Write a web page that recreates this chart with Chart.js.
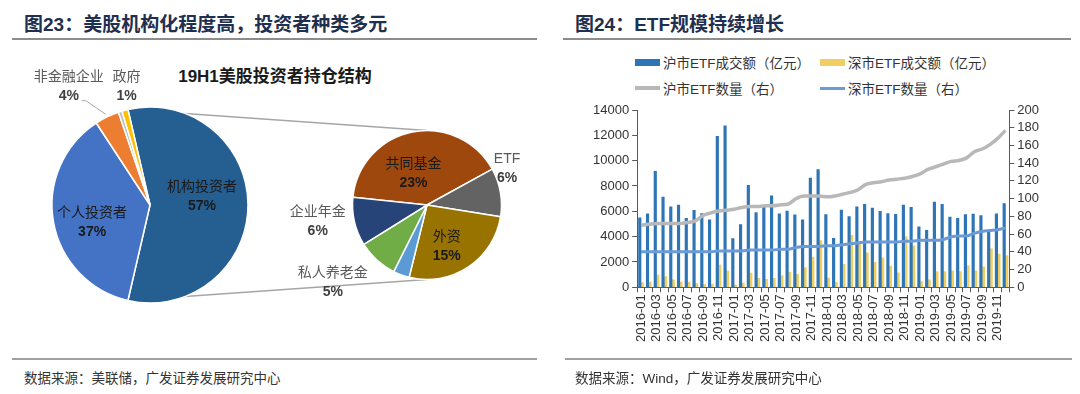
<!DOCTYPE html>
<html lang="zh-CN">
<head>
<meta charset="utf-8">
<title>美股投资者结构与ETF规模</title>
<script src="https://cdn.jsdelivr.net/npm/chart.js@4.4.1/dist/chart.umd.min.js"></script>
<style>
  html, body { margin: 0; padding: 0; background: #fff; }
  body { width: 1080px; height: 394px; position: relative; overflow: hidden;
         font-family: 'Liberation Sans', 'Noto Sans CJK SC', sans-serif; }
  .fig-title { position: absolute; top: 9px; font-size: 19px; font-weight: bold; color: #1F2F4F; white-space: nowrap; }
  .rule { position: absolute; height: 2px; background: #8C8C8C; }
  .src { position: absolute; top: 367px; font-size: 13.5px; color: #333; white-space: nowrap; }
  .sub-title { position: absolute; top: 62px; left: 0; width: 550px; text-align: center;
               font-size: 17px; font-weight: bold; color: #1a1a1a; }
  canvas { position: absolute; }
  #legend { position: absolute; left: 635px; top: 53px; display: grid;
            grid-template-columns: 185px 190px; row-gap: 8px; font-size: 13.5px; color: #333; }
  .lg-item { display: flex; align-items: center; height: 18px; white-space: nowrap; }
  .lg-swatch { display: inline-block; width: 25px; margin-right: 3px; }
</style>
</head>
<body>

<div class="fig-title" style="left:24px">图23：美股机构化程度高，投资者种类多元</div>
<div class="rule" style="left:12px; top:38px; width:525px"></div>
<div class="fig-title" style="left:575px">图24：ETF规模持续增长</div>
<div class="rule" style="left:563px; top:38px; width:508px"></div>

<div class="sub-title">19H1美股投资者持仓结构</div>
<canvas id="instPie" width="560" height="320" style="left:0; top:40px; z-index:1"></canvas>
<canvas id="holderPie" width="560" height="320" style="left:0; top:40px; z-index:2"></canvas>

<div id="legend"></div>
<canvas id="etfChart" width="505" height="315" style="left:565px; top:45px"></canvas>

<div class="rule" style="left:12px; top:358px; width:525px; background:#A0A0A0"></div>
<div class="rule" style="left:565px; top:358px; width:507px; background:#A0A0A0"></div>
<div class="src" style="left:24px">数据来源：美联储，广发证券发展研究中心</div>
<div class="src" style="left:575px">数据来源：Wind，广发证券发展研究中心</div>

<script>
// ---- data: US equity holders, 19H1 (%) ----
const holderNames  = ['机构投资者', '个人投资者', '非金融企业', '其他', '政府'];
const holderShares = [57, 37, 4, 0.6, 1];
const instNames    = ['共同基金', 'ETF', '外资', '其他机构', '私人养老金', '企业年金'];
const instShares   = [23, 6, 15, 2, 5, 6];

// ---- data: ETF monthly, 2016-01 .. 2019-12 ----
const monthLabels = [
  '2016-01', '2016-02', '2016-03', '2016-04', '2016-05', '2016-06', '2016-07', '2016-08', '2016-09', '2016-10', '2016-11', '2016-12',
  '2017-01', '2017-02', '2017-03', '2017-04', '2017-05', '2017-06', '2017-07', '2017-08', '2017-09', '2017-10', '2017-11', '2017-12',
  '2018-01', '2018-02', '2018-03', '2018-04', '2018-05', '2018-06', '2018-07', '2018-08', '2018-09', '2018-10', '2018-11', '2018-12',
  '2019-01', '2019-02', '2019-03', '2019-04', '2019-05', '2019-06', '2019-07', '2019-08', '2019-09', '2019-10', '2019-11', '2019-12'
];
const shTurnover = [
  5480, 5800, 9150, 7120, 6350, 6500, 5450, 6080, 5820, 5330, 11920, 12750,
  3850, 4960, 8050, 5900, 6380, 7230, 5800, 6010, 5720, 5330, 8620, 9300,
  5740, 3870, 6090, 5580, 6360, 6550, 6250, 6000, 5820, 5760, 6490, 6320,
  4770, 4490, 6720, 6560, 5540, 5450, 5740, 5790, 5660, 4350, 5810, 6620
];
const szTurnover = [
  370, 420, 970, 840, 580, 420, 420, 290, 240, 260, 1760, 1290,
  180, 340, 1120, 700, 630, 710, 920, 1210, 1020, 1550, 2380, 3680,
  720, 400, 1820, 4100, 3440, 2730, 1970, 2320, 1670, 1140, 4000, 3270,
  460, 590, 1250, 1250, 1300, 1250, 1720, 1300, 1610, 3040, 2620, 2500
];
const shCount = [
  70, 71, 72, 72, 72, 72, 73, 75, 81, 84, 86, 87,
  88, 90, 91, 91, 92, 92, 93, 94, 100, 103, 103, 103,
  102, 103, 105, 107, 110, 116, 118, 119, 121, 122, 123, 125,
  128, 133, 136, 139, 142, 143, 146, 153, 156, 161, 168, 177
];
const szCount = [
  40, 40, 40, 40, 40, 40, 40, 40, 40, 40, 41, 41,
  41, 41, 42, 42, 42, 42, 43, 43, 45, 46, 46, 46,
  47, 47, 48, 49, 50, 51, 51, 51, 51, 51, 52, 52,
  53, 53, 53, 54, 57, 58, 58, 61, 63, 64, 65, 67
];

const TEXT   = '#333333';
const AXIS   = '#595959';
const FONT   = "'Liberation Sans', 'Noto Sans CJK SC', sans-serif";

const holderColors = ['#255E91', '#4472C4', '#ED7D31', '#BFBFBF', '#FFC000'];
const instColors   = ['#9E480E', '#636363', '#997300', '#5B9BD5', '#70AD47', '#264478'];

// label placement per slice: k = fraction of radius along the slice mid-angle, dx/dy nudge
const INSIDE  = { name: '#1a1a1a', pct: '#1a1a1a' };
const OUTSIDE = { name: '#595959', pct: '#404040' };
const holderLabelStyle = [
  { k: 0.53, dx: 0,   dy: -9, ...INSIDE },
  { k: 0.60, dx: 0,   dy: 7,  ...INSIDE },
  { k: 1.355, dx: -23, dy: 0, ...OUTSIDE, leader: { x: 17, y: 15 } },
  null,
  { k: 1.255, dx: 8,  dy: 0,  ...OUTSIDE }
];
const instLabelStyle = [
  { k: 0.44, dx: -7,  dy: 0,   ...INSIDE },
  { k: 1.09, dx: 0,   dy: -23, ...OUTSIDE },
  { k: 0.60, dx: -5,  dy: 4,   ...INSIDE },
  null,
  { k: 1.40, dx: -24, dy: 0,   ...OUTSIDE },
  { k: 1.45, dx: -4,  dy: -8,  ...OUTSIDE }
];

function makeSliceLabels(styles) {
  return {
    id: 'sliceLabels',
    afterDatasetsDraw(chart) {
      const ctx = chart.ctx;
      const names = chart.data.labels;
      const values = chart.data.datasets[0].data;
      ctx.save();
      ctx.textAlign = 'center';
      ctx.textBaseline = 'middle';
      chart.getDatasetMeta(0).data.forEach((arc, i) => {
        const st = styles[i];
        if (!st) return;
        const p = arc.getProps(['x', 'y', 'startAngle', 'endAngle', 'outerRadius'], true);
        const mid = (p.startAngle + p.endAngle) / 2;
        const cx = p.x + Math.cos(mid) * p.outerRadius * st.k + st.dx;
        const cy = p.y + Math.sin(mid) * p.outerRadius * st.k + st.dy;
        if (st.leader) {
          const ex = p.x + Math.cos(mid) * p.outerRadius * 1.03;
          const ey = p.y + Math.sin(mid) * p.outerRadius * 1.03;
          ctx.beginPath();
          ctx.moveTo(cx + st.leader.x - 4, cy + st.leader.y);
          ctx.lineTo(cx + st.leader.x, cy + st.leader.y);
          ctx.lineTo(ex, ey);
          ctx.strokeStyle = '#A6A6A6';
          ctx.lineWidth = 1;
          ctx.stroke();
        }
        ctx.font = "14px " + FONT;
        ctx.fillStyle = st.name;
        ctx.fillText(names[i], cx, cy - 9);
        ctx.font = "bold 14px " + FONT;
        ctx.fillStyle = st.pct;
        ctx.fillText(values[i] + '%', cx, cy + 10);
      });
      ctx.restore();
    }
  };
}

function pieOptions(padding) {
  return {
    responsive: false,
    animation: false,
    layout: { padding: padding },
    plugins: { legend: { display: false }, tooltip: { enabled: false } },
    events: []
  };
}

// main pie (all holders)
const holderChart = new Chart(document.getElementById('holderPie'), {
  type: 'pie',
  data: {
    labels: holderNames,
    datasets: [{
      data: holderShares, backgroundColor: holderColors,
      borderColor: '#ffffff', borderWidth: 1.5, hoverOffset: 0,
      radius: 98, rotation: -13
    }]
  },
  options: pieOptions({ left: 0, right: 260, top: 65, bottom: 55 }),
  plugins: [makeSliceLabels(holderLabelStyle)]
});

// connector lines from the institutional slice to the breakdown pie (drawn under the main pie)
const connectors = {
  id: 'connectors',
  beforeDatasetsDraw(chart) {
    const a = holderChart.getDatasetMeta(0).data[0].getProps(['x', 'y', 'startAngle', 'endAngle', 'outerRadius'], true);
    const b = chart.getDatasetMeta(0).data[0].getProps(['x', 'y', 'outerRadius'], true);
    const ctx = chart.ctx;
    ctx.save();
    ctx.strokeStyle = '#A6A6A6';
    ctx.lineWidth = 1.6;
    ctx.beginPath();
    ctx.moveTo(a.x + Math.cos(a.startAngle) * a.outerRadius, a.y + Math.sin(a.startAngle) * a.outerRadius);
    ctx.lineTo(b.x, b.y - b.outerRadius);
    ctx.moveTo(a.x + Math.cos(a.endAngle) * a.outerRadius, a.y + Math.sin(a.endAngle) * a.outerRadius);
    ctx.lineTo(b.x, b.y + b.outerRadius);
    ctx.stroke();
    ctx.restore();
  }
};

// breakdown pie (institutional investors)
new Chart(document.getElementById('instPie'), {
  type: 'pie',
  data: {
    labels: instNames,
    datasets: [{
      data: instShares, backgroundColor: instColors,
      borderColor: '#ffffff', borderWidth: 1.5, hoverOffset: 0,
      radius: 74.5, rotation: -84
    }]
  },
  options: pieOptions({ left: 327, right: 33, top: 65, bottom: 55 }),
  plugins: [connectors, makeSliceLabels(instLabelStyle)]
});

// ETF chart
const tickFont = { family: FONT, size: 13 };
const etfChart = new Chart(document.getElementById('etfChart'), {
  type: 'bar',
  data: {
    labels: monthLabels,
    datasets: [
      { type: 'bar',  label: '沪市ETF成交额（亿元）', data: shTurnover, backgroundColor: '#2E75B6', barThickness: 2.5, yAxisID: 'y', order: 2 },
      { type: 'bar',  label: '深市ETF成交额（亿元）', data: szTurnover, backgroundColor: '#F0CE62', barThickness: 2.5, yAxisID: 'y', order: 2 },
      { type: 'line', label: '沪市ETF数量（右）', data: shCount, borderColor: '#B8B8B8', borderWidth: 3.5,
        pointRadius: 0, cubicInterpolationMode: 'monotone', yAxisID: 'y1', order: 1 },
      { type: 'line', label: '深市ETF数量（右）', data: szCount, borderColor: '#6B9BD6', borderWidth: 3,
        pointRadius: 0, cubicInterpolationMode: 'monotone', yAxisID: 'y1', order: 0 }
    ]
  },
  options: {
    responsive: false,
    animation: false,
    events: [],
    layout: { padding: { left: 25, right: 28, top: 65, bottom: 16 } },
    plugins: { legend: { display: false }, tooltip: { enabled: false } },
    scales: {
      x: {
        grid: { drawOnChartArea: false, drawTicks: true, tickLength: 5, color: AXIS, offset: true },
        border: { display: true, color: AXIS },
        ticks: {
          autoSkip: false, minRotation: 90, maxRotation: 90, padding: 2,
          color: TEXT, font: tickFont,
          callback: (v, i) => (i % 2 === 0 ? monthLabels[i] : '')
        }
      },
      y: {
        position: 'left', min: 0, max: 14000,
        grid: { drawOnChartArea: false, tickLength: 5, color: AXIS },
        border: { display: true, color: AXIS },
        ticks: { stepSize: 2000, autoSkip: false, color: TEXT, font: tickFont, padding: 3, callback: (v) => String(v) }
      },
      y1: {
        position: 'right', min: 0, max: 200,
        grid: { drawOnChartArea: false, tickLength: 5, color: AXIS },
        border: { display: true, color: AXIS },
        ticks: { stepSize: 20, autoSkip: false, color: TEXT, font: tickFont, padding: 3, callback: (v) => String(v) }
      }
    }
  }
});

// legend laid out as a two-column grid, built from the chart datasets
(function buildLegend(chart) {
  const box = document.getElementById('legend');
  chart.data.datasets.forEach((ds) => {
    const item = document.createElement('div');
    item.className = 'lg-item';
    const sw = document.createElement('span');
    sw.className = 'lg-swatch';
    if (ds.type === 'line') {
      sw.style.height = ds.borderWidth + 'px';
      sw.style.background = ds.borderColor;
    } else {
      sw.style.height = '7px';
      sw.style.background = ds.backgroundColor;
    }
    const tx = document.createElement('span');
    tx.textContent = ds.label;
    item.appendChild(sw);
    item.appendChild(tx);
    box.appendChild(item);
  });
})(etfChart);
</script>
</body>
</html>
